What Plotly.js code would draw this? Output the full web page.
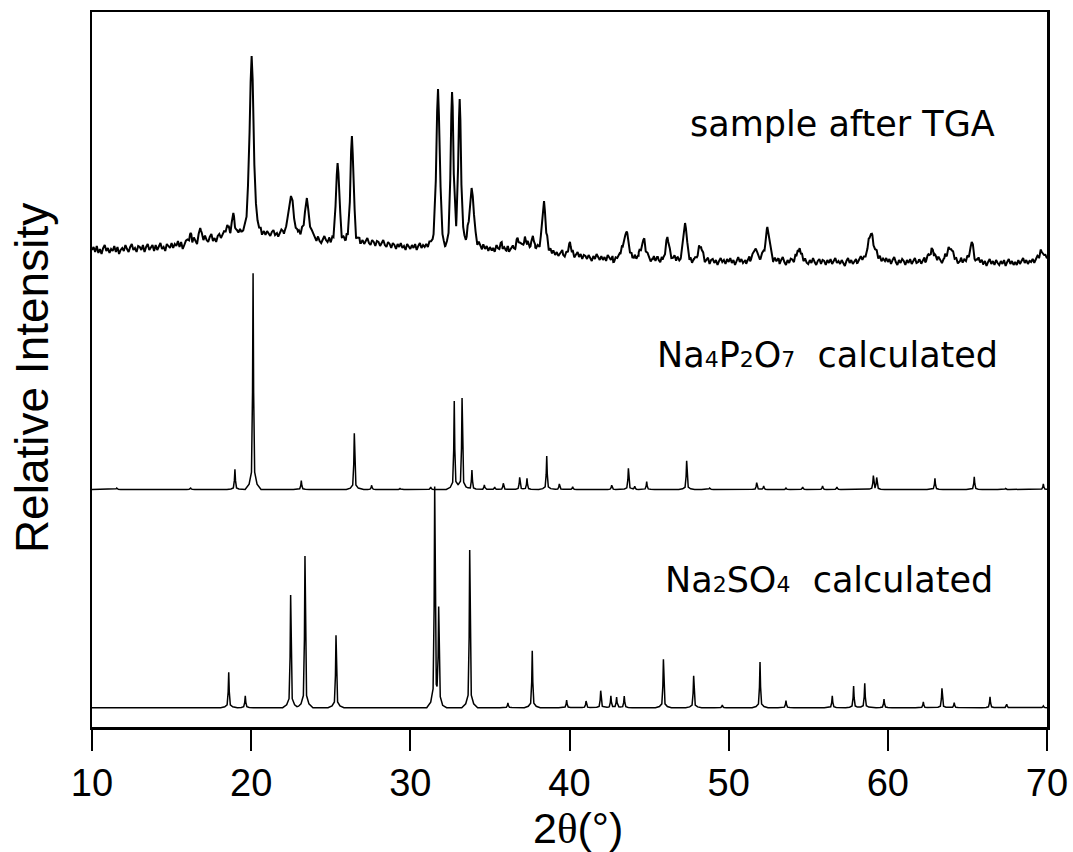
<!DOCTYPE html>
<html>
<head>
<meta charset="utf-8">
<script src="https://cdn.plot.ly/plotly-3.0.1.min.js"></script>
<style>html,body{margin:0;padding:0;background:#fff;}#chart{width:1073px;height:852px;}</style>
</head>
<body>
<div id="chart"></div>
<script>
// ---------------- data ----------------
const xTickVals = [10, 20, 30, 40, 50, 60, 70];
const xTickText = ['10', '20', '30', '40', '50', '60', '70'];

// sample after TGA : measured background, one value every 0.1 deg from 10 to 70
const sampleBackground = [
 477,480,475,481,474,478,473,479,482,476,
 479,474,478,476,481,475,480,473,477,479,
 476,482,478,475,480,483,477,479,475,481,
 480,477,482,475,480,483,477,479,482,476,
 482,477,481,484,478,480,476,483,481,479,
 484,479,483,481,486,480,485,478,482,486,
 487,483,485,481,489,485,482,487,484,488,
 486,491,487,485,490,493,486,489,485,491,
 493,489,492,495,490,488,494,491,496,493,
 492,496,494,498,495,493,497,500,498,502,
 499,501,497,495,498,494,497,493,496,492,
 496,493,491,495,497,492,494,490,493,496,
 494,491,490,493,489,492,495,490,488,492,
 493,489,491,487,490,493,488,486,489,491,
 488,485,490,486,484,488,491,487,485,489,
 483,487,485,489,484,486,490,485,488,484,
 489,486,484,488,485,487,483,486,488,484,
 487,483,486,489,484,482,487,485,481,486,
 485,481,484,487,482,480,485,483,479,484,
 482,478,483,480,484,479,481,477,483,480,
 478,482,479,483,477,481,484,479,482,480,
 483,480,485,482,481,484,487,490,486,488,
 484,480,477,481,485,488,484,490,487,485,
 492,489,486,490,484,482,487,484,481,485,
 484,481,479,483,480,477,482,478,481,476,
 480,477,479,475,481,478,476,480,474,478,
 476,480,475,478,481,477,474,479,476,480,
 479,476,481,478,482,477,480,483,479,476,
 480,477,479,482,478,475,479,474,477,473,
 476,472,475,471,474,477,472,470,474,471,
 473,470,474,469,472,475,470,473,468,472,
 471,468,472,469,466,471,468,473,469,467,
 471,467,470,466,472,469,467,471,465,469,
 468,472,469,473,470,467,471,468,466,470,
 468,471,467,470,473,468,465,470,467,471,
 469,465,468,471,466,470,467,464,469,466,
 464,468,466,470,465,468,471,466,469,465,
 466,469,464,467,470,465,468,463,467,469,
 465,468,463,467,470,464,466,469,463,467,
 468,464,467,462,466,469,465,467,463,468,
 465,469,464,467,462,466,470,465,468,464,
 467,463,466,470,465,468,464,467,469,465,
 466,470,467,464,469,466,471,467,464,468,
 465,468,463,467,470,465,462,467,464,468,
 467,464,469,465,462,467,470,465,468,464,
 463,467,464,469,465,462,466,468,463,467,
 466,462,467,464,468,463,466,469,464,466,
 463,467,464,461,466,469,464,467,463,466,
 468,464,467,470,466,469,465,468,471,467,
 470,466,469,472,467,470,465,468,466,469,
 465,468,463,467,470,465,462,467,464,468,
 466,462,467,464,468,463,466,469,464,465,
 467,463,466,469,464,468,465,462,467,464,
 468,465,469,466,463,467,470,465,468,464,
 466,470,465,468,463,466,469,464,467,465,
 468,464,467,470,465,462,466,469,464,467,
 463,466,461,465,468,463,466,462,467,464,
 462,466,463,467,461,465,468,463,466,462,
 465,462,467,463,466,469,464,467,463,466,
 465,468,464,467,470,466,469,465,468,470,
 468
];
const sampleStart = 10, sampleStep = 0.1;
const samplePeakPos = [16.2, 16.8, 18.5, 18.88, 20.03, 22.5, 23.5, 25.43, 26.33, 31.74, 32.62, 33.1, 33.85,
  35.74, 36.74, 37.2, 37.7, 38.4, 40.03, 43.55, 44.64, 46.15, 47.26, 48.2, 51.65, 52.43, 54.4, 58.94,
  62.75, 63.9, 65.27, 69.67];
const samplePeakTop = [494, 499, 502, 514, 671, 531, 529, 564, 591, 638, 635, 628, 539,
  485, 489, 490, 491, 526, 485, 494, 487, 490, 504, 479, 477, 500, 476, 493,
  479, 478, 485, 475];
const samplePeakWidth = [1, 1, 1, 1, 1.6, 2.2, 2, 1.3, 1.3, 1.4, 1.1, 1.1, 1.8,
  1.5, 1.5, 1.5, 1.5, 1.4, 1.2, 2, 1.5, 1.5, 1.4, 1.5, 1.5, 1.8, 1.5, 2.2,
  2, 2, 1.8, 1.5];

// Na4P2O7 calculated
const p2o7Base = 237.5;
const p2o7PeakPos = [11.55, 16.2, 18.98, 20.12, 23.15, 26.48, 27.57, 29.35, 31.28, 32.76, 33.25, 33.87,
  34.65, 35.3, 35.84, 36.87, 37.33, 38.57, 39.36, 40.2, 42.65, 43.7, 44.1, 44.85, 47.36, 48.8,
  51.76, 52.2, 53.6, 54.65, 55.9, 56.8, 59.09, 59.3, 62.96, 65.43, 67.4, 69.77];
const p2o7PeakTop = [239, 239, 257.7, 453.7, 246.3, 293.7, 241.7, 238.5, 240, 326, 329, 257,
  242, 240, 243.7, 249.7, 248.7, 271, 243, 240.3, 241.7, 258.7, 240.5, 245.3, 266.3, 239,
  244.3, 241, 239, 240, 241, 240, 251, 249, 248.7, 250.3, 238.5, 243];

// Na2SO4 calculated
const so4Base = 19.3;
const so4PeakPos = [18.59, 19.63, 22.48, 23.38, 25.33, 31.53, 31.78, 33.73, 36.13, 37.66, 39.82, 41.04,
  41.96, 42.6, 42.96, 43.44, 45.9, 47.8, 49.6, 51.97, 53.6, 56.51, 57.85, 58.55, 59.76, 62.23,
  63.4, 64.17, 66.42, 67.47, 69.77];
const so4PeakTop = [54.7, 31.3, 132, 171, 91.7, 238, 115, 177, 24, 76.3, 27, 26,
  36.3, 31, 29.7, 31, 67.7, 51.3, 22, 65, 26.3, 31.3, 41, 43.7, 28, 25,
  38.7, 24.3, 30.3, 22.7, 21];

const SUB = s => '<span style="font-size:22px">' + s + '</span>';
const labelSample = 'sample after TGA';
const labelP2O7 = 'Na' + SUB('4') + 'P' + SUB('2') + 'O' + SUB('7') + '\u00A0\u00A0calculated';
const labelSO4 = 'Na' + SUB('2') + 'SO' + SUB('4') + '\u00A0\u00A0calculated';

// ---------------- peak profile rendering ----------------
const CALC_SHAPE = {off: [0.5, 0.25, 0.1, 0.035, 0], frac: [0, 0.025, 0.08, 0.45, 1]};
const SAMPLE_SHAPE = {off: [0.4, 0.2, 0.1, 0.04, 0], frac: [0, 0.06, 0.4, 0.85, 1]};

function shapeVal(d, shape, w) {
  d = Math.abs(d);
  const o = shape.off.map(v => v * w), f = shape.frac;
  if (d >= o[0]) return 0;
  for (let k = 0; k < o.length - 1; k++) {
    if (d <= o[k] && d >= o[k + 1]) {
      const t = (o[k] - d) / (o[k] - o[k + 1]);
      return f[k] + t * (f[k + 1] - f[k]);
    }
  }
  return 1;
}

function buildLine(gridX, baseAt, pos, top, widths, shape) {
  const set = new Set(gridX.map(v => +v.toFixed(4)));
  pos.forEach((p, i) => {
    const w = widths ? widths[i] : 1;
    shape.off.forEach(o => {
      [p - o * w, p + o * w].forEach(v => { if (v >= 10 && v <= 70) set.add(+v.toFixed(4)); });
    });
  });
  const xs = Array.from(set).sort((a, b) => a - b);
  const hs = pos.map((p, i) => top[i] - baseAt(p));
  const ys = xs.map(x => {
    let y = baseAt(x);
    pos.forEach((p, i) => { y += hs[i] * shapeVal(x - p, shape, widths ? widths[i] : 1); });
    return y;
  });
  return {x: xs, y: ys};
}

const sampleGrid = sampleBackground.map((_, i) => sampleStart + i * sampleStep);
const sampleBaseAt = x => {
  const i = Math.min(sampleBackground.length - 1, Math.max(0, Math.round((x - sampleStart) / sampleStep)));
  return sampleBackground[i];
};
const sampleLine = buildLine(sampleGrid, sampleBaseAt, samplePeakPos, samplePeakTop, samplePeakWidth, SAMPLE_SHAPE);
const p2o7Line = buildLine([10, 70], () => p2o7Base, p2o7PeakPos, p2o7PeakTop, null, CALC_SHAPE);
const so4Line = buildLine([10, 70], () => so4Base, so4PeakPos, so4PeakTop, null, CALC_SHAPE);

const traces = [
  {x: sampleLine.x, y: sampleLine.y, type: 'scatter', mode: 'lines', line: {color: '#000', width: 2}, hoverinfo: 'skip'},
  {x: p2o7Line.x, y: p2o7Line.y, type: 'scatter', mode: 'lines', line: {color: '#000', width: 1.5}, hoverinfo: 'skip'},
  {x: so4Line.x, y: so4Line.y, type: 'scatter', mode: 'lines', line: {color: '#000', width: 1.5}, hoverinfo: 'skip'}
];

const FONT = 'Liberation Sans, Arial, sans-serif';
const LABEL_FONT = 'DejaVu Sans, Liberation Sans, sans-serif';
const layout = {
  width: 1073, height: 852,
  margin: {l: 92, r: 26, t: 12, b: 125, pad: 0},
  paper_bgcolor: '#fff', plot_bgcolor: '#fff',
  showlegend: false,
  font: {family: FONT, color: '#000'},
  xaxis: {
    range: [10, 70], tickvals: xTickVals, ticktext: xTickText,
    ticks: 'outside', ticklen: 21, tickwidth: 2, tickcolor: '#000',
    showline: true, linewidth: 2.5, linecolor: '#000', mirror: true,
    showgrid: false, zeroline: false,
    tickfont: {family: FONT, size: 38, color: '#000'}
  },
  yaxis: {
    range: [0, 715], showticklabels: false, ticks: '',
    showline: true, linewidth: 2.5, linecolor: '#000', mirror: true,
    showgrid: false, zeroline: false
  },
  annotations: [
    {text: labelSample, xref: 'paper', yref: 'paper', x: 0.9476, y: 0.843, xanchor: 'right', yanchor: 'middle', showarrow: false, font: {family: LABEL_FONT, size: 35, color: '#000'}},
    {text: labelP2O7, xref: 'paper', yref: 'paper', x: 0.9508, y: 0.520, xanchor: 'right', yanchor: 'middle', showarrow: false, font: {family: LABEL_FONT, size: 35, color: '#000'}},
    {text: labelSO4, xref: 'paper', yref: 'paper', x: 0.9455, y: 0.2056, xanchor: 'right', yanchor: 'middle', showarrow: false, font: {family: LABEL_FONT, size: 35, color: '#000'}},
    {text: 'Relative Intensity', xref: 'paper', yref: 'paper', x: -0.0628, y: 0.488, xanchor: 'center', yanchor: 'middle', textangle: -90, showarrow: false, font: {family: FONT, size: 46, color: '#000'}},
    {text: '2<span style="font-family:Liberation Serif">θ</span>(°)', xref: 'paper', yref: 'paper', x: 0.509, y: -0.141, xanchor: 'center', yanchor: 'middle', showarrow: false, font: {family: FONT, size: 43, color: '#000'}}
  ]
};

Plotly.newPlot('chart', traces, layout, {displayModeBar: false, staticPlot: true});
</script>
</body>
</html>
